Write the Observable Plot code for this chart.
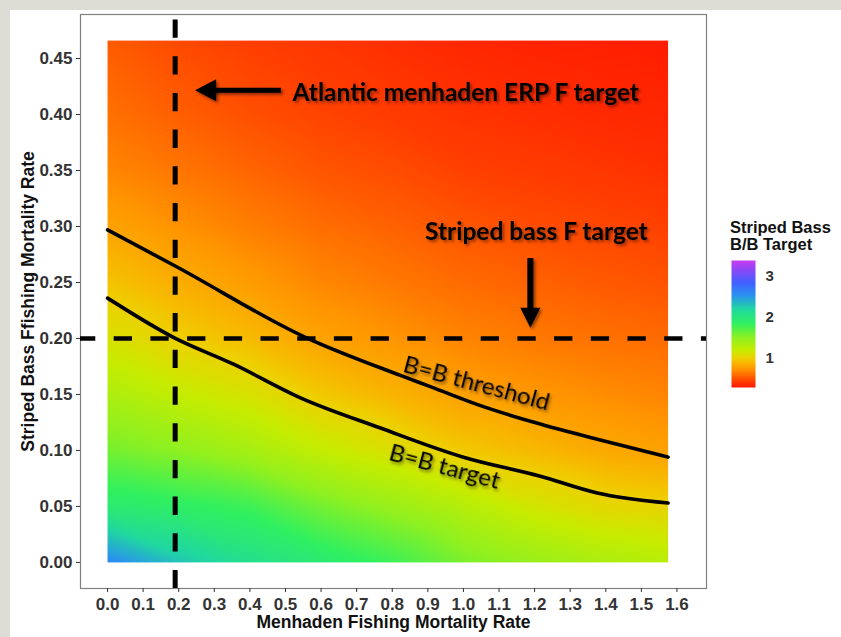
<!DOCTYPE html>
<html><head><meta charset="utf-8">
<script src="https://cdn.jsdelivr.net/npm/d3@7"></script>
<script src="https://cdn.jsdelivr.net/npm/@observablehq/plot@0.6"></script>
<style>
html,body{margin:0;padding:0;}
body{background:#dddcd5;width:841px;height:637px;overflow:hidden;position:relative;}
#paper{position:absolute;left:10px;top:10px;width:831px;height:627px;background:#fff;}
#chart{position:absolute;left:0;top:0;}
#legend{position:absolute;left:731px;top:260px;}
#legtitle{position:absolute;left:730px;top:219px;font:bold 16.5px/16.5px "Liberation Sans",Arial,sans-serif;color:#111;white-space:nowrap;}
</style></head><body>
<div id="paper"></div>
<div id="chart"></div>
<div id="legtitle">Striped Bass<br>B/B Target</div>
<div id="legend"></div>
<script>
// ---- data ----
const menhadenF = [0, 0.2, 0.4, 0.6, 0.8, 1.0, 1.2, 1.4, 1.575];
const stripedBassF = [0, 0.05, 0.1, 0.15, 0.2, 0.25, 0.3, 0.35, 0.4, 0.466];
// B/B target; one row per menhaden F, one value per striped bass F
const ratioByMenhadenF = [
  [2.60, 1.95, 1.60, 1.35, 1.12, 0.95, 0.80, 0.69, 0.61, 0.54],
  [2.30, 1.88, 1.50, 1.22, 1.00, 0.85, 0.73, 0.63, 0.55, 0.48],
  [2.10, 1.80, 1.38, 1.12, 0.91, 0.77, 0.66, 0.57, 0.50, 0.44],
  [1.95, 1.60, 1.22, 0.97, 0.80, 0.69, 0.60, 0.52, 0.46, 0.41],
  [1.80, 1.45, 1.10, 0.88, 0.74, 0.64, 0.56, 0.49, 0.43, 0.38],
  [1.58, 1.30, 0.97, 0.79, 0.68, 0.59, 0.52, 0.45, 0.40, 0.35],
  [1.45, 1.15, 0.90, 0.75, 0.64, 0.56, 0.49, 0.43, 0.38, 0.33],
  [1.35, 1.05, 0.83, 0.71, 0.61, 0.53, 0.47, 0.41, 0.36, 0.32],
  [1.28, 1.02, 0.79, 0.68, 0.59, 0.51, 0.45, 0.39, 0.35, 0.31]
];
// contour B = B threshold
const thresholdMenhadenF = [0, 0.194, 0.556, 0.823, 0.907, 1.048, 1.188, 1.376, 1.575];
const thresholdBassF     = [0.297, 0.264, 0.201, 0.167, 0.157, 0.140, 0.126, 0.110, 0.094];
// contour B = B target
const targetMenhadenF = [0, 0.185, 0.354, 0.542, 0.767, 1.0, 1.216, 1.376, 1.575];
const targetBassF     = [0.236, 0.201, 0.177, 0.147, 0.120, 0.094, 0.077, 0.062, 0.053];
// reference values
const menhadenERPFtarget = 0.19;
const stripedBassFtarget = 0.2;
// ticks
const xTickValues = [0,0.1,0.2,0.3,0.4,0.5,0.6,0.7,0.8,0.9,1.0,1.1,1.2,1.3,1.4,1.5,1.6];
const yTickValues = [0,0.05,0.1,0.15,0.2,0.25,0.3,0.35,0.4,0.45];
const legendTicks = [1, 2, 3];
// colour ramp
const colorStops  = [0.29, 0.45, 0.6, 0.75, 0.9, 1.0, 1.2, 1.5, 1.85, 2.2, 2.55, 2.85, 3.15, 3.39];
const colorHexes  = ["#ff1800","#ff4000","#ff6e00","#ff9800","#f8b800","#eed000","#c8ec00","#90f020","#30f060","#20d8a0","#2a90f0","#4060ff","#8a48f8","#c83cf0"];
// labels
const xTitle = "Menhaden Fishing Mortality Rate";
const yTitle = "Striped Bass Ffishing Mortality Rate";
const annotations = ["Atlantic menhaden ERP F target", "Striped bass F target", "B=B threshold", "B=B target"];

// ---- build ----
const grid = [];
menhadenF.forEach((x, i) => stripedBassF.forEach((y, j) => grid.push({x, y, v: ratioByMenhadenF[i][j]})));
const thresholdLine = thresholdMenhadenF.map((x, i) => ({x, y: thresholdBassF[i]}));
const targetLine = targetMenhadenF.map((x, i) => ({x, y: targetBassF[i]}));

const colorScale = {type: "linear", domain: colorStops, range: colorHexes, clamp: true};
const leftHead = {draw(c) { c.moveTo(0, 0); c.lineTo(21, -11); c.lineTo(21, 11); c.closePath(); }};
const downHead = {draw(c) { c.moveTo(0, 0); c.lineTo(-10, -20); c.lineTo(10, -20); c.closePath(); }};
const annFont = "Lato, 'Open Sans', sans-serif";
const axisFont = "'Liberation Sans', Arial, sans-serif";

const labelSpecs = [
  {text: annotations[0], x: 0.52, y: 0.4193, anchor: "start", weight: "bold", size: 24.5, rot: 0},
  {text: annotations[1], x: 1.205, y: 0.2945, anchor: "middle", weight: "bold", size: 24.5, rot: 0},
  {text: annotations[2], x: 1.037, y: 0.160, anchor: "middle", weight: "normal", size: 24, rot: 15},
  {text: annotations[3], x: 0.947, y: 0.0856, anchor: "middle", weight: "normal", size: 24, rot: 15}
];

const chart = Plot.plot({
  width: 841, height: 637,
  marginLeft: 80, marginRight: 135, marginTop: 14, marginBottom: 49,
  x: {domain: [-0.076, 1.683]},
  y: {domain: [-0.0233, 0.4893]},
  color: colorScale,
  style: {background: "transparent", fontFamily: axisFont, fontSize: "17px", fontWeight: "bold", color: "#333"},
  marks: [
    Plot.raster(grid, {x: "x", y: "y", fill: "v", x1: 0, x2: 1.575, y1: 0, y2: 0.466, interpolate: "barycentric"}),
    Plot.frame({stroke: "#808080", strokeWidth: 1.2}),
    Plot.axisX({ticks: xTickValues, tickFormat: d3.format(".1f"), tickSize: 4, tickPadding: 5, label: null, fontSize: 17}),
    Plot.axisY({ticks: yTickValues, tickFormat: d3.format(".2f"), tickSize: 4, tickPadding: 4, label: null, fontSize: 17}),
    Plot.text([xTitle], {text: d => d, frameAnchor: "bottom", dy: 39.6, fontSize: 17.5, fontWeight: "bold", fill: "#111"}),
    Plot.text([yTitle], {text: d => d, frameAnchor: "left", textAnchor: "middle", rotate: -90, dx: -52.4, fontSize: 17.5, fontWeight: "bold", fill: "#111"}),
    Plot.line(thresholdLine, {x: "x", y: "y", stroke: "#000", strokeWidth: 3.6, curve: "monotone-x"}),
    Plot.line(targetLine, {x: "x", y: "y", stroke: "#000", strokeWidth: 3.6, curve: "monotone-x"}),
    Plot.ruleY([stripedBassFtarget], {stroke: "#000", strokeWidth: 4.5, strokeDasharray: "18.3,18.4", strokeDashoffset: 3}),
    Plot.ruleX([menhadenERPFtarget], {stroke: "#000", strokeWidth: 5, strokeDasharray: "18.3,18.4", strokeDashoffset: 31.2}),
    // arrows
    Plot.link([{}], {x1: 0.487, x2: 0.29, y1: 0.4216, y2: 0.4216, stroke: "#000", strokeWidth: 5}),
    Plot.dot([{}], {x: 0.246, y: 0.4216, symbol: leftHead, fill: "#000", stroke: "none", r: 6}),
    Plot.link([{}], {x1: 1.188, x2: 1.188, y1: 0.2718, y2: 0.2255, stroke: "#000", strokeWidth: 6}),
    Plot.dot([{}], {x: 1.188, y: 0.2095, symbol: downHead, fill: "#000", stroke: "none", r: 6}),
    // annotation labels
    ...labelSpecs.map(s => Plot.text([s], {x: "x", y: "y", text: "text", textAnchor: s.anchor, fontWeight: s.weight, fontSize: s.size, rotate: s.rot, fontFamily: annFont, fill: "#000"}))
  ]
});
document.getElementById("chart").append(chart);

// drop shadows on the slide annotations
const shadow = "drop-shadow(2px 2px 1.5px rgba(0,0,0,0.45))";
d3.select(chart).selectAll('g[aria-label="link"], g[aria-label="dot"]').style("filter", shadow);
d3.select(chart).selectAll('g[aria-label="text"] text').filter(function() { return annotations.includes(this.textContent); }).style("filter", shadow);

const legend = Plot.plot({
  width: 60, height: 127,
  marginLeft: 0, marginRight: 36, marginTop: 0, marginBottom: 0,
  x: {domain: [0, 1], axis: null},
  y: {domain: [0.29, 3.39]},
  color: colorScale,
  style: {background: "transparent", overflow: "visible", fontFamily: axisFont, fontSize: "15px", fontWeight: "bold", color: "#333"},
  marks: [
    Plot.raster({fill: (x, y) => y, x1: 0, x2: 1, y1: 0.29, y2: 3.39}),
    Plot.axisY({anchor: "right", ticks: legendTicks, tickFormat: d3.format("d"), tickSize: 0, tickPadding: 10, label: null, fontSize: 15})
  ]
});
document.getElementById("legend").append(legend);
</script>
</body></html>
